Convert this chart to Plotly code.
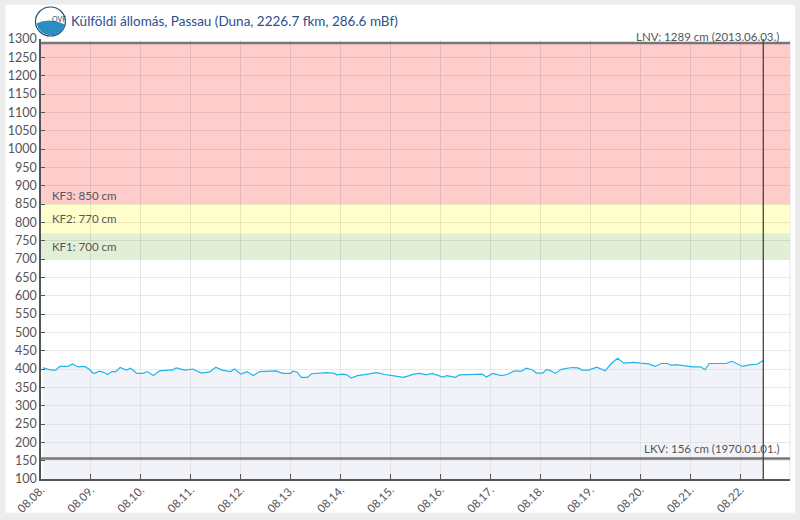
import pandas as pd
import plotly.graph_objects as go

# Vízállás adatok (órák 08.08. 00:00-tól, cm)
kezdet = pd.Timestamp('2024-08-08 00:00')
orak = [1, 5, 7, 9, 13, 15, 17, 18, 21, 23, 25, 26, 28, 30, 32, 34, 36, 38, 41, 43,
        45, 46, 49, 51, 54, 57, 61, 63, 65, 68, 69, 73, 75, 77, 81, 84, 87, 89, 91, 93,
        96, 99, 102, 105, 113, 116, 120, 121, 123, 125, 128, 130, 136, 137, 141, 142, 145, 147,
        149, 152, 157, 161, 163, 165, 169, 172, 174, 177, 179, 182, 185, 188, 190, 193,
        195, 199, 201, 207, 209, 212, 214, 217, 221, 224, 227, 231, 233, 236, 238, 241,
        243, 245, 247, 250, 255, 257, 258, 260, 263, 267, 269, 271, 274, 277, 280, 285,
        288, 292, 295, 298, 301, 303, 305, 309, 313, 317, 319, 321, 326, 328, 329, 332,
        334, 337, 341, 344, 347]
vizallas = [403, 397, 397, 407, 407, 414, 408, 406, 407, 400, 389, 389, 394, 391, 385, 393, 393, 404, 397, 402,
            393, 388, 388, 393, 382, 395, 397, 397, 403, 400, 397, 400, 395, 389, 392, 405, 397, 396, 393, 400,
            386, 393, 382, 393, 395, 388, 388, 394, 392, 377, 377, 387, 388, 390, 388, 384, 386, 384,
            375, 382, 386, 390, 388, 385, 382, 380, 377, 382, 386, 388, 384, 388, 384, 378,
            382, 377, 384, 384, 385, 386, 378, 388, 382, 385, 394, 394, 402, 398, 389, 389,
            399, 395, 388, 399, 404, 402, 403, 397, 397, 405, 400, 395, 415, 429, 416, 418,
            416, 414, 407, 415, 415, 410, 412, 408, 406, 406, 398, 415, 415, 417, 415, 421,
            415, 407, 412, 413, 423]
idopontok = [kezdet + pd.Timedelta(hours=h) for h in orak]

# Küszöbértékek
kf1, kf2, kf3 = 700, 770, 850
lnv, lnv_datum = 1289, '2013.06.03.'
lkv, lkv_datum = 156, '1970.01.01.'
x_min = pd.Timestamp('2024-08-08 00:00')
x_max = pd.Timestamp('2024-08-22 23:50')
most = idopontok[-1]

SZOVEG = '#555555'

fig = go.Figure()

fig.add_trace(go.Scatter(
    x=idopontok, y=vizallas,
    mode='lines',
    line=dict(color='#1fb5ec', width=1.2),
    fill='tozeroy',
    fillcolor='rgba(215,220,235,0.35)',
    hoverinfo='x+y',
    showlegend=False
))

shapes = [
    # fehér kártya háttér
    dict(type='rect', xref='paper', yref='paper', x0=-0.0474, x1=1.0067, y0=-0.0766, y1=1.078,
         fillcolor='white', line=dict(width=0), layer='below'),
    # zónák
    dict(type='rect', xref='x', yref='y', x0=x_min, x1=x_max + pd.Timedelta(minutes=10), y0=kf3, y1=lnv,
         fillcolor='#ffcccc', line=dict(width=0), layer='below'),
    dict(type='rect', xref='x', yref='y', x0=x_min, x1=x_max + pd.Timedelta(minutes=10), y0=kf2, y1=kf3,
         fillcolor='#ffffcc', line=dict(width=0), layer='below'),
    dict(type='rect', xref='x', yref='y', x0=x_min, x1=x_max + pd.Timedelta(minutes=10), y0=kf1, y1=kf2,
         fillcolor='#e2efd6', line=dict(width=0), layer='below'),
    # LNV / LKV vonalak
    dict(type='line', xref='paper', yref='y', x0=0, x1=1, y0=lnv, y1=lnv,
         line=dict(color='#777777', width=2.5)),
    dict(type='line', xref='paper', yref='y', x0=0, x1=1, y0=lkv, y1=lkv,
         line=dict(color='#777777', width=2.5)),
    # jobb oldali szél
    dict(type='line', xref='paper', yref='paper', x0=1, x1=1, y0=0, y1=1,
         line=dict(color='#e4e4e4', width=1), layer='below'),
    # aktuális időpont
    dict(type='line', xref='x', yref='paper', x0=most, x1=most, y0=0, y1=1,
         line=dict(color='#444444', width=1.3)),
    # logó
    dict(type='circle', xref='paper', yref='paper', x0=-0.0074, x1=0.0326, y0=1.0068, y1=1.0727,
         fillcolor='white', line=dict(color='#1f4f7a', width=1.2)),
    dict(type='path', xref='paper', yref='paper',
         path='M -0.006 1.035 Q 0.010 1.050 0.032 1.033 Q 0.028 1.010 0.0126 1.0078 Q -0.003 1.012 -0.006 1.035 Z',
         fillcolor='#2a8fc0', line=dict(width=0)),
]

annotations = [
    dict(text='Külföldi állomás, Passau (Duna, 2226.7 fkm, 286.6 mBf)', xref='paper', yref='paper',
         x=0.0374, y=1.0415, xanchor='left', yanchor='middle', showarrow=False,
         font=dict(size=13.5, color='#2c4f8c', family='Lato')),
    dict(text='OVF', xref='paper', yref='paper', x=0.0126, y=1.058, showarrow=False,
         font=dict(size=7, color='#1f4f7a', family='Lato')),
    dict(text=f'LNV: {lnv} cm ({lnv_datum})', xref='paper', yref='y', x=0.988, y=lnv,
         xanchor='right', yanchor='bottom', showarrow=False, yshift=-2,
         font=dict(size=11.5, color=SZOVEG, family='Lato')),
    dict(text=f'LKV: {lkv} cm ({lkv_datum})', xref='paper', yref='y', x=0.988, y=lkv,
         xanchor='right', yanchor='bottom', showarrow=False, yshift=1,
         font=dict(size=11.5, color=SZOVEG, family='Lato')),
    dict(text=f'KF3: {kf3} cm', xref='paper', yref='y', x=0.012, y=kf3,
         xanchor='left', yanchor='bottom', showarrow=False, yshift=0,
         font=dict(size=11.5, color=SZOVEG, family='Lato')),
    dict(text=f'KF2: {kf2} cm', xref='paper', yref='y', x=0.012, y=(kf2 + kf3) / 2,
         xanchor='left', yanchor='middle', showarrow=False,
         font=dict(size=11.5, color=SZOVEG, family='Lato')),
    dict(text=f'KF1: {kf1} cm', xref='paper', yref='y', x=0.012, y=(kf1 + kf2) / 2,
         xanchor='left', yanchor='middle', showarrow=False,
         font=dict(size=11.5, color=SZOVEG, family='Lato')),
]

fig.update_layout(
    width=800,
    height=520,
    margin=dict(l=41, r=10, t=39, b=41),
    paper_bgcolor='#ececec',
    plot_bgcolor='white',
    font=dict(family='Lato', size=12, color=SZOVEG),
    shapes=shapes,
    annotations=annotations,
    showlegend=False,
    xaxis=dict(
        type='date',
        range=[x_min, x_max],
        dtick=86400000,
        tick0='2024-08-08',
        tickformat='%m.%d.',
        tickangle=-45,
        tickfont=dict(size=11.5, color=SZOVEG),
        ticklabelstandoff=-2,
        ticks='inside', ticklen=5, tickcolor='#555555',
        showline=True, linecolor='#555555', linewidth=1.5,
        showgrid=True, gridcolor='rgba(0,0,0,0.09)', gridwidth=1,
        zeroline=False, automargin=False,
    ),
    yaxis=dict(
        range=[100, 1300],
        dtick=50,
        tickfont=dict(size=12.5, color=SZOVEG),
        ticks='inside', ticklen=4, tickcolor='#555555',
        showline=True, linecolor='#555555', linewidth=1.5,
        showgrid=True, gridcolor='rgba(0,0,0,0.09)', gridwidth=1,
        zeroline=False, automargin=False,
    ),
)

# a böngésző alapértelmezett 8px-es margóját eltüntetjük
fig.write_html('out.html', config={'displayModeBar': False},
               post_script="document.body.style.margin='0';")
